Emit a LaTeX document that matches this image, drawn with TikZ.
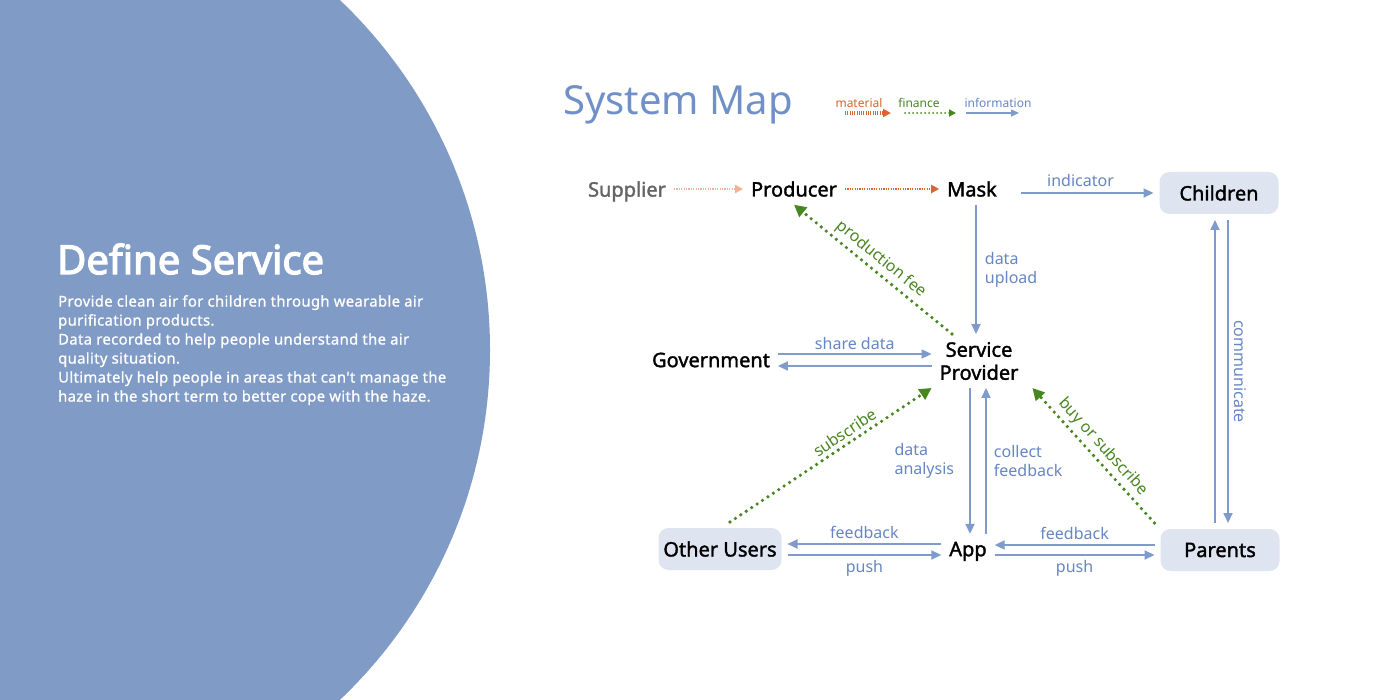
\documentclass[tikz,border=0pt]{standalone}
\usepackage{fontspec}
\setmainfont{Noto Sans}
\newfontfamily\medfont{Noto Sans}[FakeBold=1.6]
\newfontfamily\headfont{Noto Sans}[FakeBold=3]
\newfontfamily\bodyfont{Noto Sans}[FakeBold=1, LetterSpace=2.5]
\usetikzlibrary{arrows.meta}
\usetikzlibrary{positioning}
\usepackage{xcolor}

\definecolor{circleblue}{RGB}{127,155,198}
\definecolor{titleblue}{RGB}{112,144,200}
\definecolor{infoblue}{RGB}{126,155,204}
\definecolor{labelblue}{RGB}{102,134,196}
\definecolor{fingreen}{RGB}{72,134,32}
\definecolor{matorange}{RGB}{214,102,52}
\definecolor{paleorange}{RGB}{240,178,152}
\definecolor{boxfill}{RGB}{222,229,241}
\definecolor{suppliergray}{RGB}{100,100,100}

\begin{document}
\begin{tikzpicture}[x=1pt, y=-1pt,
    every node/.style={inner sep=0pt},
    actor/.style={outer sep=8pt, font=\medfont\fontsize{20}{24}\selectfont},
    rolebox/.style={fill=boxfill, rounded corners=10pt, minimum width=119pt, minimum height=42pt, outer sep=6pt, font=\medfont\fontsize{20}{24}\selectfont},
    info/.style={draw=infoblue, line width=1.8pt, -{Triangle[length=10pt,width=9pt]}},
    infolabel/.style={text=labelblue, font=\fontsize{16}{19}\selectfont},
    fin/.style={draw=fingreen, line width=3.6pt, line cap=round, dash pattern=on 0pt off 6.5pt, -{Triangle[length=12pt,width=12pt]}},
    finlabel/.style={text=fingreen, font=\fontsize{16}{19}\selectfont},
    mat/.style={draw=matorange, line width=2.5pt, dash pattern=on 1.2pt off 1.2pt, -{Triangle[length=8pt,width=8pt]}},
    keylabel/.style={font=\fontsize{12}{14}\selectfont}
]

% page and the big circle
\useasboundingbox (0,0) rectangle (1400,700);
\fill[white] (0,0) rectangle (1400,700);
\begin{scope}
    \clip (0,0) rectangle (1400,700);
    \fill[circleblue] (7,350) circle[radius=483pt];
\end{scope}

\node[anchor=west, text=white, font=\headfont\fontsize{40}{48}\selectfont] (deftitle) at (57,259) {Define Service};
\node[anchor=north west, text=white, align=left, font=\bodyfont\fontsize{14.8}{19}\selectfont] (deftext) at (58,295)
    {Provide clean air for children through wearable air\\
     purification products.\\
     Data recorded to help people understand the air\\
     quality situation.\\
     Ultimately help people in areas that can't manage the\\
     haze in the short term to better cope with the haze.};

\node[anchor=west, text=titleblue, font=\fontsize{40}{48}\selectfont] (maptitle) at (563,105) {System Map};

% legend
\node[keylabel, text=matorange] (matkey) at (859,103) {material};
\node[keylabel, text=fingreen] (finkey) at (919,103) {finance};
\node[keylabel, text=labelblue] (infokey) at (998,103) {information};
\coordinate (mata) at (845,113);
\coordinate (matb) at (891,113);
\coordinate (fina) at (905,113);
\coordinate (finb) at (956,113);
\coordinate (infoa) at (966,113);
\coordinate (infob) at (1019,113);
\draw[mat, line width=3.5pt, dash pattern=on 1pt off 1.3pt] (mata) -- (matb);
\draw[fin, line width=2pt, dash pattern=on 0pt off 4pt, -{Triangle[length=7pt,width=7pt]}] (fina) -- (finb);
\draw[info, line width=1.2pt, -{Triangle[length=8pt,width=7pt]}] (infoa) -- (infob);

% actors
\node[actor, text=suppliergray, text depth=0pt] (supplier) at (627,189) {Supplier};
\node[actor] (producer) at (794,189) {Producer};
\node[actor] (mask) at (972,189) {Mask};
\node[rolebox] (children) at (1219,193) {Children};
\node[actor] (gov) at (711,360) {Government};
\node[actor, align=center] (sp) at (979,361) {Service\\[-1pt]Provider};
\node[rolebox, minimum width=123pt] (others) at (720,549) {Other Users};
\node[actor, text depth=0pt] (app) at (968,549) {App};
\node[rolebox] (parents) at (1220,550) {Parents};

% material
\draw[mat, draw=paleorange, line width=2pt] (supplier) -- (producer);
\draw[mat] (producer) -- (mask);

% information
\draw[info] ([xshift=16pt]children.west -| mask.east) -- (children.west)
    node[pos=0.45, above=5pt, infolabel] {indicator};
\draw[info] ([xshift=4pt]mask.south) -- ([xshift=4pt]mask.south |- sp.north)
    node[midway, right=8pt, infolabel, align=left] {data\\upload};
\draw[info] ([yshift=6pt]gov.east) -- ([yshift=6pt]gov.east -| sp.west)
    node[midway, above=3pt, infolabel] {share data};
\draw[info] ([yshift=-6pt]gov.east -| sp.west) -- ([yshift=-6pt]gov.east);
\draw[info] ([xshift=-9pt]sp.south) -- ([xshift=-9pt]sp.south |- app.north)
    node[midway, left=15pt, infolabel, align=left] {data\\analysis};
\draw[info] ([xshift=7pt]sp.south |- app.north) -- ([xshift=7pt]sp.south)
    node[midway, right=7pt, infolabel, align=left] {collect\\feedback};
\draw[info] ([yshift=5pt]app.west) -- ([yshift=5pt]app.west -| others.east)
    node[midway, above=4pt, infolabel] {feedback};
\draw[info] ([yshift=-6pt]app.west -| others.east) -- ([yshift=-6pt]app.west)
    node[midway, below=4pt, infolabel] {push};
\draw[info] ([yshift=5pt]parents.west) -- ([yshift=5pt]parents.west -| app.east)
    node[midway, above=4pt, infolabel] {feedback};
\draw[info] ([yshift=-5pt]parents.west -| app.east) -- ([yshift=-5pt]parents.west)
    node[midway, below=4pt, infolabel] {push};
\draw[info] ([xshift=-5pt]parents.north) -- ([xshift=-5pt]parents.north |- children.south);
\draw[info] ([xshift=8pt]parents.north |- children.south) -- ([xshift=8pt]parents.north)
    node[midway, xshift=12pt, rotate=-90, infolabel] {communicate};

% finance
\draw[fin] ([xshift=-27pt]sp.north) -- (producer.south)
    node[midway, sloped, above=3pt, finlabel] {production fee};
\draw[fin] ([xshift=10pt]others.north) -- (sp.south west)
    node[pos=0.6, sloped, above=3pt, finlabel] {subscribe};
\draw[fin] (parents.north west) -- ([xshift=6pt]sp.south east)
    node[midway, sloped, above=3pt, finlabel] {buy or subscribe};

\end{tikzpicture}
\end{document}
